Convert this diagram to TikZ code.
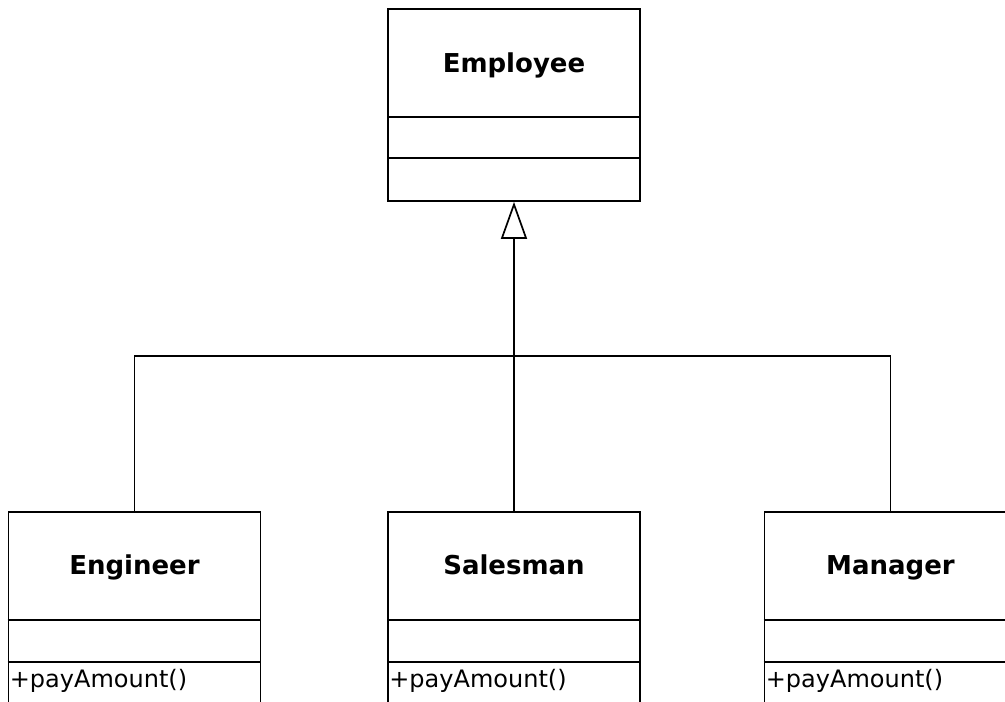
\documentclass[tikz,border=0pt]{standalone}
\usepackage{fontspec}
\setmainfont{DejaVu Sans}
\usetikzlibrary{arrows.meta}
\tikzset{
  classbox/.style={draw,line width=1.7pt,minimum width=252pt,inner sep=0pt},
  classname/.style={font=\bfseries\fontsize{26}{30}\selectfont,anchor=base,inner sep=0pt},
  methodtext/.style={font=\fontsize{24}{28}\selectfont,anchor=base west,inner sep=0pt},
  link/.style={line width=1.7pt},
  inherit/.style={link,-{Triangle[open,width=26pt,length=37pt]}}
}
\begin{document}
\begin{tikzpicture}[x=1pt,y=-1pt]
\useasboundingbox (0,0) rectangle (1005,702);
% superclass
\node[classbox,minimum height=192pt] (employee) at (514,105) {};
\node[classname] (employeename) at (514,72) {Employee};
\draw[link] ([yshift=-109pt]employee.north west) -- ([yshift=-109pt]employee.north east) ([yshift=-150pt]employee.north west) -- ([yshift=-150pt]employee.north east);
% subclasses
\foreach \name/\label/\x in {engineer/Engineer/134.5,salesman/Salesman/514,manager/Manager/890.5}{
  \node[classbox,minimum height=220pt] (\name) at (\x,622) {};
  \node[classname] (\name name) at (\x,574) {\label};
  \draw[link] ([yshift=-109pt]\name.north west) -- ([yshift=-109pt]\name.north east) ([yshift=-151pt]\name.north west) -- ([yshift=-151pt]\name.north east);
  \node[methodtext] (\name pay) at ([xshift=2pt,yshift=-176pt]\name.north west) {+payAmount()};
}
% generalisation
\coordinate (bus) at (514,356);
\draw[link] (engineer.north) |- (bus) -| (manager.north);
\draw[inherit] (salesman.north) -- (employee.south);
\end{tikzpicture}
\end{document}
